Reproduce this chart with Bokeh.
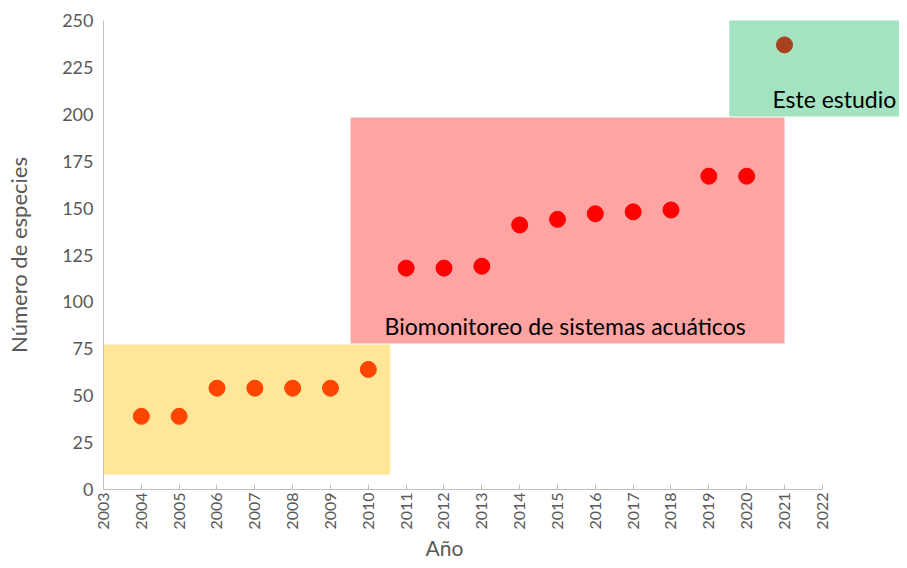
from bokeh.plotting import figure
from bokeh.models import Range1d, FixedTicker, BoxAnnotation, Label, Title
from bokeh.embed import file_html
from bokeh.resources import INLINE

# ---- data ----
years_prev = [2004, 2005, 2006, 2007, 2008, 2009, 2010]
species_prev = [39, 39, 54, 54, 54, 54, 64]
years_bio = [2011, 2012, 2013, 2014, 2015, 2016, 2017, 2018, 2019, 2020]
species_bio = [118, 118, 119, 141, 144, 147, 148, 149, 167, 167]
years_this = [2021]
species_this = [237]
x_ticks = list(range(2003, 2023))
y_ticks = [0, 25, 50, 75, 100, 125, 150, 175, 200, 225, 250]
label_bio = "Biomonitoreo de sistemas acuáticos"
label_this = "Este estudio"
x_title = "Año"
y_title = "Número de especies"

FONT = "Lato"
GREY = "#595959"
AX = "#BFBFBF"

p = figure(width=899, height=560, output_backend="svg", toolbar_location=None,
           x_range=Range1d(2003, 2024.04), y_range=Range1d(0, 250),
           min_border_left=103, min_border_right=0, min_border_top=20, min_border_bottom=71)
p.outline_line_color = None
p.grid.visible = False

# background boxes
p.add_layout(BoxAnnotation(left=2003, right=2010.58, bottom=8, top=77.3,
                           fill_color="#FFE699", fill_alpha=1, line_color=None, level="underlay"))
p.add_layout(BoxAnnotation(left=2009.53, right=2021.0, bottom=77.8, top=198.3,
                           fill_color="#FFA3A3", fill_alpha=1, line_color=None, level="underlay"))
p.add_layout(BoxAnnotation(left=2019.54, right=2024.04, bottom=198.8, top=250.5,
                           fill_color="#A3E3C1", fill_alpha=1, line_color=None, level="underlay"))

# points
p.scatter(years_prev, species_prev, size=16, color="#FF4500")
p.scatter(years_bio, species_bio, size=16, color="#FF0000")
p.scatter(years_this, species_this, size=16, color="#A9401F")

# labels
p.add_layout(Label(x=2010.43, y=87.4, text=label_bio, text_font=FONT, text_font_size="23px",
                   text_color="black", text_baseline="middle"))
p.add_layout(Label(x=2020.68, y=208.4, text=label_this, text_font=FONT, text_font_size="23px",
                   text_color="black", text_baseline="middle"))

# axes
p.xaxis.ticker = FixedTicker(ticks=x_ticks)
p.xaxis.bounds = (2003, 2022)
p.xaxis.major_label_orientation = 1.5708
p.xaxis.major_label_text_font = FONT
p.xaxis.major_label_text_font_size = "16px"
p.xaxis.major_label_text_color = GREY
p.xaxis.major_label_standoff = 3
p.xaxis.axis_line_color = AX
p.xaxis.major_tick_line_color = AX
p.xaxis.major_tick_in = 5
p.xaxis.major_tick_out = 0
p.xaxis.minor_tick_line_color = None

# x-axis title placed like the reference (left of frame centre)
p.add_layout(Title(text=x_title, align="left", offset=322, standoff=0,
                   text_font=FONT, text_font_size="21px", text_font_style="normal",
                   text_color=GREY), "below")

p.yaxis.ticker = FixedTicker(ticks=y_ticks)
p.yaxis.major_label_text_font = FONT
p.yaxis.major_label_text_font_size = "18px"
p.yaxis.major_label_text_color = GREY
p.yaxis.axis_line_color = AX
p.yaxis.major_tick_line_color = None
p.yaxis.minor_tick_line_color = None
p.yaxis.major_label_standoff = 4
p.yaxis.axis_label = y_title
p.yaxis.axis_label_text_font = FONT
p.yaxis.axis_label_text_font_size = "22px"
p.yaxis.axis_label_text_font_style = "normal"
p.yaxis.axis_label_text_color = GREY
p.yaxis.axis_label_standoff = 27

open("out.html", "w").write(file_html(p, INLINE))
